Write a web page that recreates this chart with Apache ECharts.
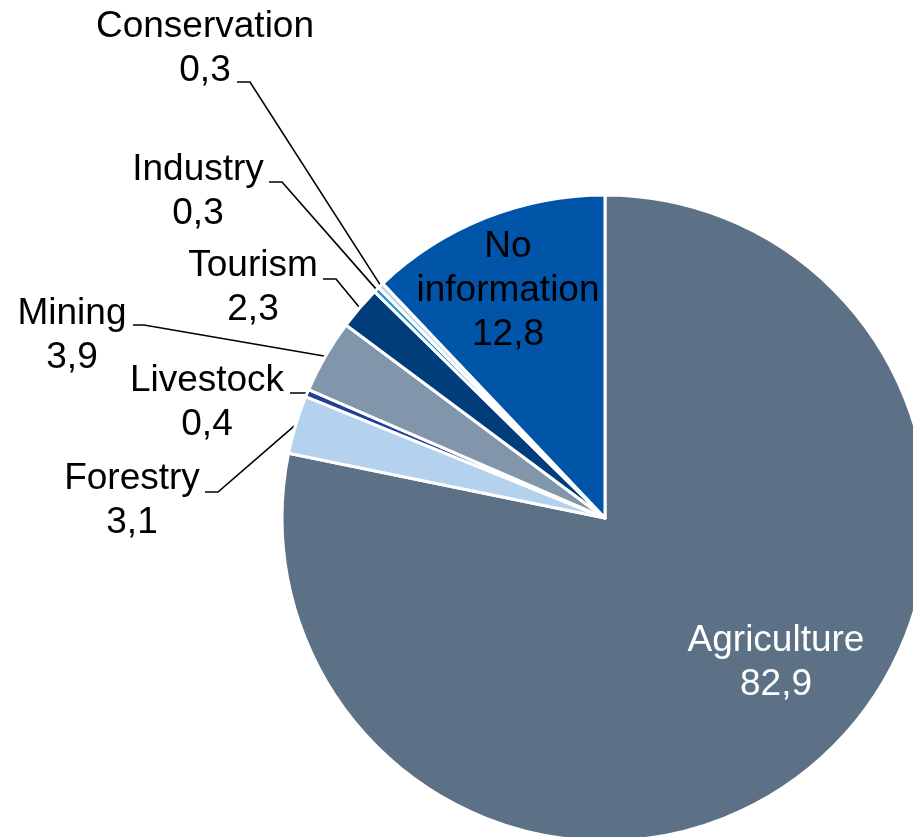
<!DOCTYPE html>
<html>
<head>
<meta charset="utf-8">
<script src="https://cdn.jsdelivr.net/npm/echarts@6/dist/echarts.min.js"></script>
<style>
  html, body { margin: 0; padding: 0; background: #ffffff; }
  #chart { width: 913px; height: 837px; }
</style>
</head>
<body>
<div id="chart"></div>
<script>
// Share of each land-use category
const categories = ['Agriculture', 'Forestry', 'Livestock', 'Mining', 'Tourism', 'Industry', 'Conservation', 'No information'];
const values = [82.9, 3.1, 0.4, 3.9, 2.3, 0.3, 0.3, 12.8];

// Slice fills, in category order
const sliceColors = ['#5D7186', '#B4D1EE', '#213E99', '#8196AB', '#013D7B', '#1A96D4', '#C9D3DD', '#0055A8'];

const FONT_SIZE = 37;
const LINE_H = 44;

// Label placement: centre x, centre y of the first line, and for outside
// labels the bend and end points of the leader (its start comes from the pie).
const labelPlacement = {
  'Agriculture':    { x: 776, y: 641, inside: true, color: '#ffffff' },
  'No information': { x: 508, y: 247, inside: true, color: '#000000' },
  'Conservation':   { x: 205, y: 27,  leader: [[250, 82], [237, 82]] },
  'Industry':       { x: 198, y: 170, leader: [[282, 182], [269, 182]] },
  'Tourism':        { x: 253, y: 266, leader: [[336, 279], [323, 279]] },
  'Mining':         { x: 72,  y: 314, leader: [[144, 325], [133, 325]] },
  'Livestock':      { x: 207, y: 381, leader: [[302, 393], [290, 393]] },
  'Forestry':       { x: 132, y: 479, leader: [[218, 492], [205, 492]] }
};

function fmt(v) {
  return v.toFixed(1).replace('.', ',');
}

const pieData = categories.map(function (name, i) {
  const p = labelPlacement[name];
  const item = {
    name: name,
    value: values[i],
    itemStyle: { color: sliceColors[i] }
  };
  if (p.inside) {
    item.label = { position: 'inside', color: p.color };
    item.labelLine = { show: false };
  }
  return item;
});

const chart = echarts.init(document.getElementById('chart'), null, { renderer: 'canvas' });

chart.setOption({
  backgroundColor: '#ffffff',
  animation: false,
  series: [{
    type: 'pie',
    center: [605, 518],
    radius: 323,
    startAngle: 90,
    clockwise: true,
    avoidLabelOverlap: false,
    silent: true,
    itemStyle: { borderColor: '#ffffff', borderWidth: 3 },
    label: {
      show: true,
      position: 'outside',
      color: '#000000',
      fontFamily: 'Liberation Sans, Arial, sans-serif',
      fontSize: FONT_SIZE,
      lineHeight: LINE_H,
      align: 'center',
      formatter: function (p) {
        return p.name.replace(' ', '\n') + '\n' + fmt(p.value);
      }
    },
    labelLine: {
      show: true,
      length: 20,
      length2: 12,
      smooth: false,
      lineStyle: { color: '#000000', width: 1.6 }
    },
    labelLayout: function (params) {
      const name = categories[params.dataIndex];
      const p = labelPlacement[name];
      const out = {
        x: p.x,
        y: p.y - LINE_H / 2,
        align: 'center',
        verticalAlign: 'top'
      };
      if (p.leader && params.labelLinePoints) {
        out.labelLinePoints = [params.labelLinePoints[0], p.leader[0], p.leader[1]];
      }
      return out;
    },
    data: pieData
  }]
});
</script>
</body>
</html>
